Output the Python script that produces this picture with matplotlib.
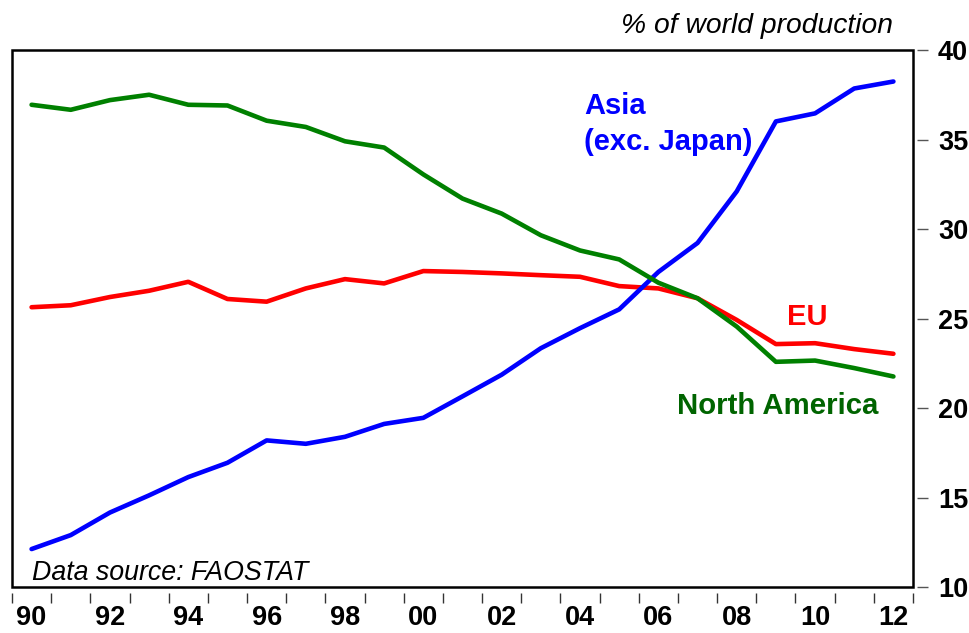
import numpy as np
import matplotlib
matplotlib.use("Agg")
import matplotlib.pyplot as plt
from matplotlib.patches import Rectangle

plt.rcParams['font.family'] = ['Liberation Sans', 'DejaVu Sans']

years = list(range(1990, 2013))
asia = [12.12, 12.90, 14.16, 15.12, 16.14, 16.94, 18.19, 18.00, 18.39, 19.11, 19.45, 20.65,
        21.86, 23.34, 24.46, 25.51, 27.60, 29.22, 32.10, 36.01, 36.46, 37.85, 38.24]
eu = [25.63, 25.74, 26.20, 26.55, 27.05, 26.09, 25.94, 26.68, 27.20, 26.96, 27.65, 27.60,
      27.52, 27.42, 27.33, 26.81, 26.68, 26.13, 24.92, 23.57, 23.62, 23.29, 23.03]
north_america = [36.94, 36.66, 37.20, 37.50, 36.94, 36.90, 36.05, 35.70, 34.90, 34.55, 33.05, 31.70,
                 30.86, 29.65, 28.80, 28.30, 27.00, 26.13, 24.55, 22.58, 22.65, 22.23, 21.76]

label_years = list(range(1990, 2013, 2))
label_text = [f"{y % 100:02d}" for y in label_years]
y_ticks = [10, 15, 20, 25, 30, 35, 40]

fig = plt.figure(figsize=(9.69, 6.33), dpi=100)
ax = fig.add_axes([12 / 969, 1 - 587 / 633, (913 - 12) / 969, (587 - 50) / 633])

ax.plot(years, eu, color='#ff0000', lw=3.3, solid_joinstyle='round', solid_capstyle='round')
ax.plot(years, asia, color='#0000ff', lw=3.3, solid_joinstyle='round', solid_capstyle='round')
ax.plot(years, north_america, color='#008000', lw=3.3, solid_joinstyle='round', solid_capstyle='round')

ax.set_xlim(1989.5, 2012.5)
ax.set_ylim(10, 40)

# frame drawn separately so the ticks can sit a little off the box
ax.add_patch(Rectangle((0, 0), 1, 1, transform=ax.transAxes, fill=False,
                       lw=1.8, edgecolor='black', clip_on=False, zorder=5))
for side in ['left', 'top', 'bottom', 'right']:
    ax.spines[side].set_visible(False)
ax.spines['bottom'].set_position(('outward', 4))
ax.spines['right'].set_position(('outward', 3))

# x: tick marks on year boundaries, labels at mid-year
ax.set_xticks(np.arange(1989.5, 2013, 1.0))
ax.set_xticklabels([])
ax.set_xticks(label_years, minor=True)
ax.set_xticklabels(label_text, minor=True, fontsize=19.5, fontweight='bold')
ax.tick_params(axis='x', which='major', direction='out', length=7, width=1, color='#333333')
ax.tick_params(axis='x', which='minor', length=0, pad=9)

ax.yaxis.tick_right()
ax.set_yticks(y_ticks)
ax.set_yticklabels([str(v) for v in y_ticks], fontsize=19.5, fontweight='bold')
ax.tick_params(axis='y', which='major', direction='out', length=8, width=1, color='#555555', pad=7)

# series labels
ax.text(2004.1, 36.42, "Asia", color='#0000ff', fontsize=21, fontweight='bold')
ax.text(2004.1, 34.41, "(exc. Japan)", color='#0000ff', fontsize=21, fontweight='bold')
ax.text(2009.29, 24.64, "EU", color='#ff0000', fontsize=21, fontweight='bold')
ax.text(2006.48, 19.66, "North America", color='#006400', fontsize=21.2, fontweight='bold')

ax.text(0.022, 0.013, "Data source: FAOSTAT", transform=ax.transAxes,
        fontsize=19.3, fontstyle='italic', va='baseline', ha='left')
fig.text(893 / 969, 1 - 33 / 633, "% of world production", fontsize=20.3,
         fontstyle='italic', ha='right', va='baseline')

fig.savefig("out.png", dpi=100)
